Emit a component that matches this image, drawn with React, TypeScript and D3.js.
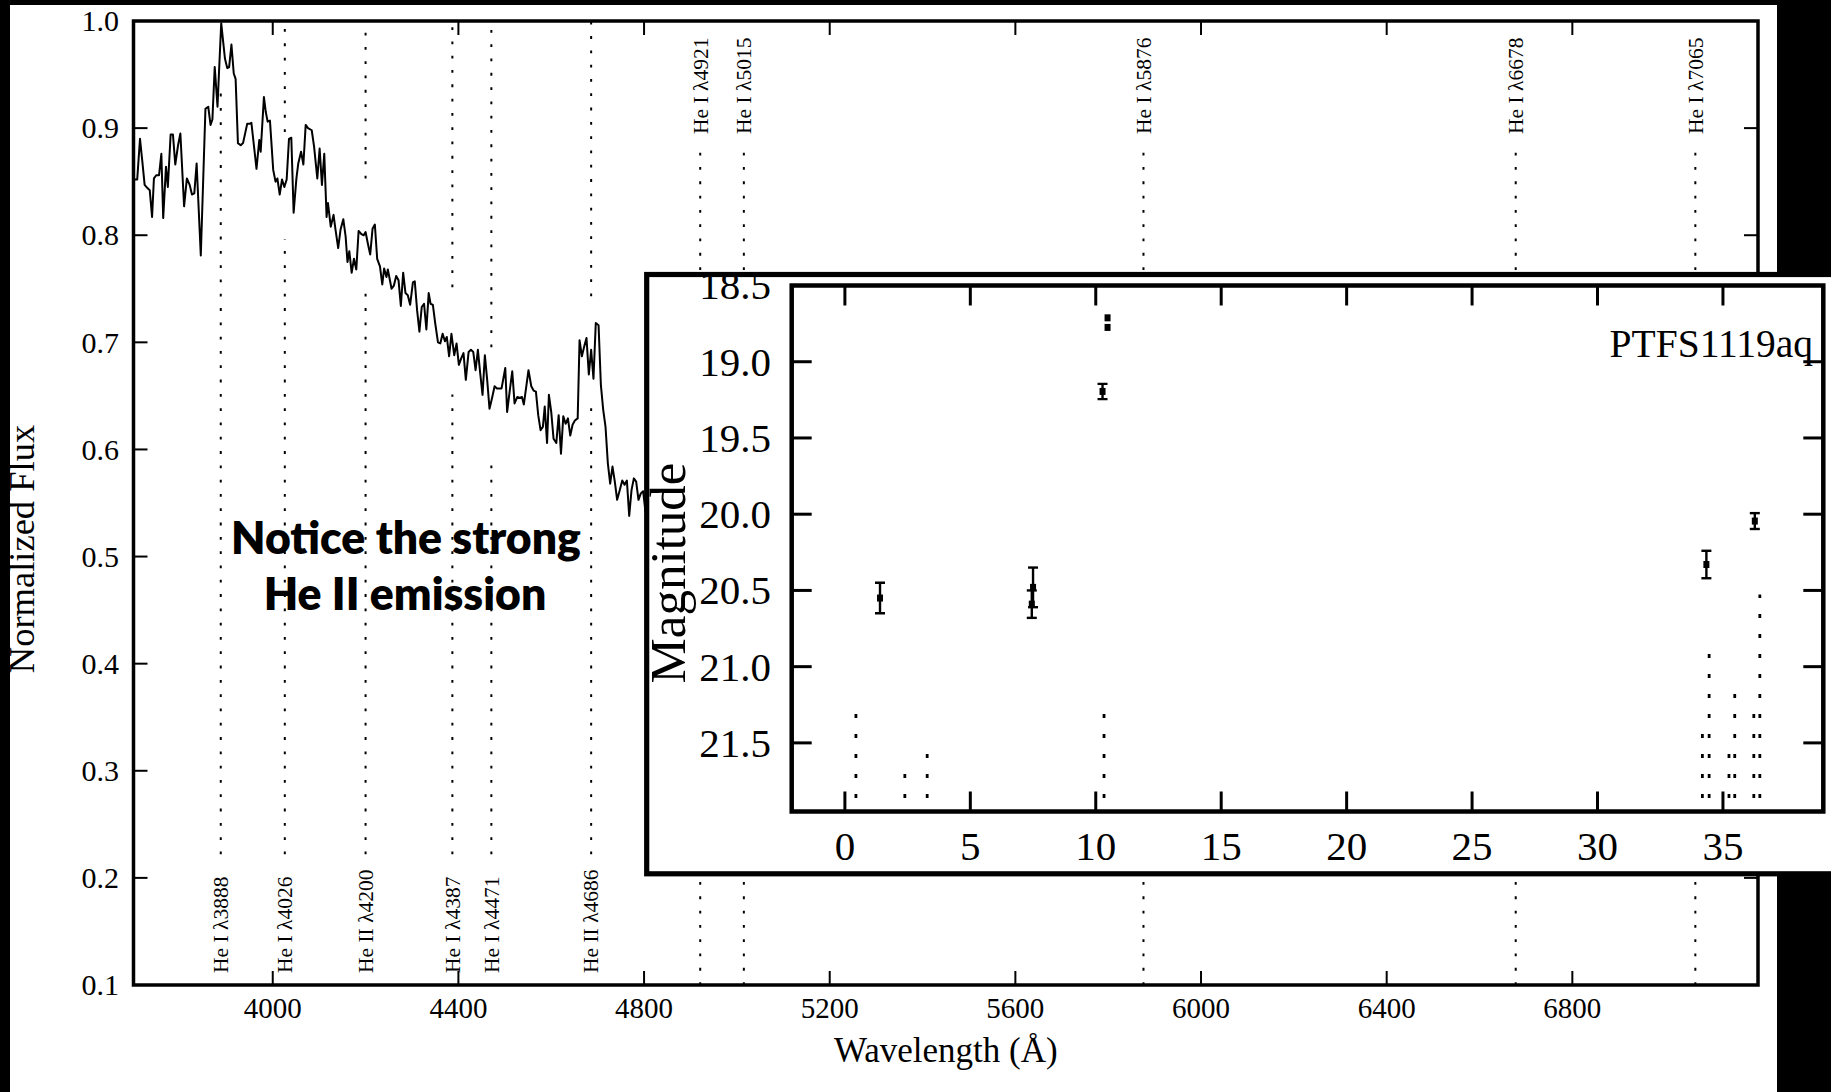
import React from 'react';
import * as d3 from 'd3';

// ---- Spectrum (normalized flux vs wavelength, Å) ----
const wavelength = [
  3700, 3708, 3714, 3719, 3724, 3730, 3735, 3740, 3744, 3749, 3755, 3760, 3764, 3770, 3774, 3780,
  3785, 3790, 3796, 3801, 3809, 3815, 3821, 3826, 3831, 3836, 3845, 3855, 3861, 3866, 3870, 3875,
  3881, 3884, 3889, 3897, 3902, 3906, 3911, 3916, 3920, 3925, 3931, 3936, 3945, 3950, 3954, 3965,
  3971, 3974, 3981, 3985, 3989, 3994, 4001, 4006, 4010, 4015, 4020, 4025, 4030, 4035, 4040, 4045,
  4051, 4055, 4061, 4066, 4071, 4076, 4084, 4089, 4096, 4101, 4106, 4111, 4116, 4119, 4125, 4131,
  4135, 4141, 4146, 4152, 4157, 4161, 4165, 4170, 4175, 4180, 4185, 4191, 4196, 4200, 4205, 4210,
  4215, 4220, 4225, 4231, 4236, 4240, 4245, 4248, 4256, 4261, 4266, 4271, 4276, 4281, 4286, 4291,
  4296, 4302, 4306, 4311, 4316, 4321, 4326, 4331, 4336, 4340, 4345, 4350, 4356, 4361, 4366, 4371,
  4375, 4380, 4385, 4391, 4396, 4401, 4406, 4411, 4416, 4422, 4427, 4432, 4437, 4442, 4447, 4452,
  4457, 4462, 4467, 4473, 4478, 4483, 4488, 4493, 4501, 4505, 4511, 4516, 4521, 4527, 4532, 4537,
  4541, 4546, 4551, 4557, 4562, 4567, 4572, 4577, 4582, 4586, 4591, 4595, 4600, 4605, 4611, 4616,
  4621, 4626, 4631, 4636, 4641, 4646, 4651, 4657, 4661, 4666, 4671, 4676, 4681, 4686, 4691, 4696,
  4702, 4707, 4712, 4717, 4722, 4727, 4732, 4737, 4742, 4747, 4753, 4758, 4763, 4768, 4773, 4778,
  4783, 4788, 4793, 4798, 4803, 4810, 4820,
];
const flux = [
  0.852, 0.852, 0.890, 0.869, 0.847, 0.844, 0.842, 0.817, 0.853, 0.856, 0.856, 0.876, 0.816, 0.864, 0.845, 0.894,
  0.894, 0.866, 0.884, 0.895, 0.827, 0.853, 0.847, 0.838, 0.839, 0.867, 0.781, 0.918, 0.920, 0.903, 0.908, 0.957,
  0.920, 0.950, 0.998, 0.965, 0.956, 0.957, 0.978, 0.951, 0.946, 0.886, 0.884, 0.886, 0.904, 0.904, 0.905, 0.862,
  0.889, 0.878, 0.929, 0.915, 0.906, 0.907, 0.861, 0.850, 0.853, 0.838, 0.852, 0.845, 0.852, 0.890, 0.891, 0.821,
  0.853, 0.867, 0.878, 0.866, 0.903, 0.900, 0.898, 0.883, 0.853, 0.881, 0.847, 0.876, 0.817, 0.830, 0.808, 0.819,
  0.806, 0.788, 0.805, 0.815, 0.799, 0.775, 0.785, 0.765, 0.778, 0.768, 0.804, 0.801, 0.800, 0.803, 0.792, 0.782,
  0.806, 0.810, 0.778, 0.771, 0.754, 0.769, 0.761, 0.768, 0.750, 0.753, 0.762, 0.758, 0.734, 0.765, 0.746, 0.744,
  0.735, 0.756, 0.757, 0.730, 0.710, 0.733, 0.736, 0.712, 0.746, 0.736, 0.735, 0.718, 0.700, 0.699, 0.708, 0.701,
  0.705, 0.687, 0.708, 0.688, 0.699, 0.679, 0.685, 0.690, 0.665, 0.691, 0.693, 0.691, 0.674, 0.693, 0.671, 0.651,
  0.688, 0.665, 0.638, 0.649, 0.659, 0.657, 0.657, 0.657, 0.676, 0.635, 0.656, 0.673, 0.643, 0.649, 0.648, 0.649,
  0.642, 0.658, 0.674, 0.659, 0.655, 0.654, 0.632, 0.618, 0.621, 0.640, 0.606, 0.651, 0.635, 0.610, 0.606, 0.632,
  0.596, 0.631, 0.624, 0.629, 0.613, 0.623, 0.627, 0.629, 0.702, 0.687, 0.696, 0.704, 0.670, 0.693, 0.666, 0.718,
  0.716, 0.660, 0.637, 0.621, 0.587, 0.568, 0.584, 0.570, 0.553, 0.561, 0.571, 0.567, 0.571, 0.538, 0.562, 0.573,
  0.570, 0.553, 0.559, 0.561, 0.542, 0.555, 0.550,
];

// ---- Helium line identifications ----
const lineWave = [3888, 4026, 4200, 4387, 4471, 4686, 4921, 5015, 5876, 6678, 7065];
const lineIon = ['He I', 'He I', 'He II', 'He I', 'He I', 'He II', 'He I', 'He I', 'He I', 'He I', 'He I'];
const lineLabelOnTop = [false, false, false, false, false, false, true, true, true, true, true];

const xTicks = [4000, 4400, 4800, 5200, 5600, 6000, 6400, 6800];
const yTicks = [0.1, 0.2, 0.3, 0.4, 0.5, 0.6, 0.7, 0.8, 0.9, 1.0];

// ---- Light curve (days vs magnitude) ----
const detDay = [1.4, 7.5, 7.45, 10.27, 10.47, 10.47, 34.34, 36.27];
const detMag = [20.55, 20.48, 20.59, 19.195, 18.712, 18.775, 20.33, 20.045];
const detErr = [0.1, 0.13, 0.09, 0.05, 0, 0, 0.09, 0.052];
const limDay = [0.44, 2.39, 3.28, 10.33, 34.18, 34.45, 35.24, 35.47, 36.23, 36.47];
const limMag = [21.3, 21.7, 21.57, 21.3, 21.44, 20.93, 21.57, 21.18, 21.31, 20.54];
const insetXTicks = [0, 5, 10, 15, 20, 25, 30, 35];
const insetYTicks = [18.5, 19.0, 19.5, 20.0, 20.5, 21.0, 21.5];

const W = 1831;
const H = 1092;
const SERIF = "'Liberation Serif', 'Times New Roman', serif";
const SANS = "Lato, 'Open Sans', sans-serif";

const M = { left: 133.5, right: 1758, top: 21, bottom: 985 };
const I = { left: 791.7, right: 1823.3, top: 285.5, bottom: 811.5 };

function fluxAt(w: number): number | null {
  const i = d3.bisectLeft(wavelength, w);
  if (i <= 0 || i >= wavelength.length) return null;
  const t = (w - wavelength[i - 1]) / (wavelength[i] - wavelength[i - 1]);
  return flux[i - 1] + t * (flux[i] - flux[i - 1]);
}

export default function App() {
  const x = d3.scaleLinear().domain([3700, 7200]).range([M.left, M.right]);
  const y = d3.scaleLinear().domain([0.1, 1.0]).range([M.bottom, M.top]);
  const ix = d3.scaleLinear().domain([-2.12, 39]).range([I.left, I.right]);
  const iy = d3.scaleLinear().domain([18.5, 21.95]).range([I.top, I.bottom]);

  const pts = wavelength.map((w, i) => [w, flux[i]] as [number, number]);
  const spectrumPath = d3
    .line<[number, number]>()
    .x((d) => x(d[0]))
    .y((d) => y(d[1]))(pts) as string;

  // dotted marker segments for each line, broken around the spectrum
  const segs: { wx: number; y1: number; y2: number }[] = [];
  lineWave.forEach((w, i) => {
    if (lineLabelOnTop[i]) {
      segs.push({ wx: w, y1: 0.877, y2: 0.1 });
    } else {
      const f = fluxAt(w);
      if (f === null) {
        segs.push({ wx: w, y1: 0.222, y2: 1.0 });
      } else {
        if (f - 0.05 > 0.222) segs.push({ wx: w, y1: 0.222, y2: f - 0.05 });
        if (f + 0.05 < 1.0) segs.push({ wx: w, y1: f + 0.05, y2: 1.0 });
      }
    }
  });

  const tickW = 2;
  return (
    <svg
      width={W}
      height={H}
      viewBox={`0 0 ${W} ${H}`}
      style={{ position: 'absolute', left: 0, top: 0, display: 'block' }}
    >
      <defs>
        <clipPath id="mainClip">
          <rect x={M.left} y={M.top} width={M.right - M.left} height={M.bottom - M.top} />
        </clipPath>
        <clipPath id="insetClip">
          <rect x={I.left} y={I.top} width={I.right - I.left} height={I.bottom - I.top} />
        </clipPath>
      </defs>
      <rect x={0} y={0} width={W} height={H} fill="#000" />
      <rect x={10} y={5} width={1767} height={H - 5} fill="#fff" />

      {/* ---------- main spectrum panel ---------- */}
      <g clipPath="url(#mainClip)">
        {segs.map((s, i) => (
          <line
            key={'seg' + i}
            x1={x(s.wx)}
            x2={x(s.wx)}
            y1={y(s.y1)}
            y2={y(s.y2)}
            stroke="#000"
            strokeWidth={2}
            strokeDasharray="2.8 11.5"
          />
        ))}
        <path d={spectrumPath} fill="none" stroke="#000" strokeWidth={2} strokeLinejoin="round" />
      </g>

      {lineWave.map((w, i) => {
        const top = lineLabelOnTop[i];
        const ly = top ? 134 : 973;
        return (
          <text
            key={'lab' + i}
            transform={`translate(${x(w)},${ly}) rotate(-90)`}
            dy="0.34em"
            fontFamily={SERIF}
            fontSize={21.5}
            textAnchor="start"
            fill="#000"
          >
            {`${lineIon[i]} λ${w}`}
          </text>
        );
      })}

      <rect
        x={M.left}
        y={M.top}
        width={M.right - M.left}
        height={M.bottom - M.top}
        fill="none"
        stroke="#000"
        strokeWidth={3.5}
      />
      {xTicks.map((t) => (
        <g key={'xt' + t}>
          <line x1={x(t)} x2={x(t)} y1={M.bottom} y2={M.bottom - 14} stroke="#000" strokeWidth={tickW} />
          <line x1={x(t)} x2={x(t)} y1={M.top} y2={M.top + 14} stroke="#000" strokeWidth={tickW} />
          <text x={x(t)} y={1018} textAnchor="middle" fontFamily={SERIF} fontSize={29} fill="#000">
            {t}
          </text>
        </g>
      ))}
      {yTicks.map((t) => (
        <g key={'yt' + t}>
          <line x1={M.left} x2={M.left + 14} y1={y(t)} y2={y(t)} stroke="#000" strokeWidth={tickW} />
          <line x1={M.right} x2={M.right - 14} y1={y(t)} y2={y(t)} stroke="#000" strokeWidth={tickW} />
          <text x={119} y={y(t)} dy="0.34em" textAnchor="end" fontFamily={SERIF} fontSize={30} fill="#000">
            {t.toFixed(1)}
          </text>
        </g>
      ))}
      <text x={(M.left + M.right) / 2} y={1062} textAnchor="middle" fontFamily={SERIF} fontSize={35} fill="#000">
        Wavelength (Å)
      </text>
      <text
        transform={`translate(34,549) rotate(-90)`}
        textAnchor="middle"
        fontFamily={SERIF}
        fontSize={36.5}
        fill="#000"
      >
        Normalized Flux
      </text>

      <text x={406} y={554} textAnchor="middle" fontFamily={SANS} fontWeight={800} fontSize={44.5} fill="#000">
        Notice the strong
      </text>
      <text x={405} y={610} textAnchor="middle" fontFamily={SANS} fontWeight={800} fontSize={44.5} fill="#000">
        He II emission
      </text>

      {/* ---------- light-curve inset ---------- */}
      <rect x={646.7} y={274.5} width={1400} height={599.3} fill="#fff" />
      <g clipPath="url(#insetClip)">
        {limDay.map((d, i) => (
          <line
            key={'lim' + i}
            x1={ix(d)}
            x2={ix(d)}
            y1={I.bottom}
            y2={iy(limMag[i]) - 2}
            stroke="#000"
            strokeWidth={2.8}
            strokeDasharray="4 16"
            strokeDashoffset={6.5}
          />
        ))}
        {detDay.map((d, i) => {
          const cx = ix(d);
          const y1 = iy(detMag[i] - detErr[i]);
          const y2 = iy(detMag[i] + detErr[i]);
          return (
            <g key={'det' + i}>
              {detErr[i] > 0 && (
                <>
                  <line x1={cx} x2={cx} y1={y1} y2={y2} stroke="#000" strokeWidth={2.4} />
                  <line x1={cx - 5} x2={cx + 5} y1={y1} y2={y1} stroke="#000" strokeWidth={2.4} />
                  <line x1={cx - 5} x2={cx + 5} y1={y2} y2={y2} stroke="#000" strokeWidth={2.4} />
                </>
              )}
              <rect x={cx - 3} y={iy(detMag[i]) - 3.5} width={6} height={7} fill="#000" />
            </g>
          );
        })}
      </g>
      {insetXTicks.map((t) => (
        <g key={'ixt' + t}>
          <line x1={ix(t)} x2={ix(t)} y1={I.bottom} y2={I.bottom - 20} stroke="#000" strokeWidth={3} />
          <line x1={ix(t)} x2={ix(t)} y1={I.top} y2={I.top + 20} stroke="#000" strokeWidth={3} />
          <text x={ix(t)} y={860} textAnchor="middle" fontFamily={SERIF} fontSize={41} fill="#000">
            {t}
          </text>
        </g>
      ))}
      {insetYTicks.map((t) => (
        <g key={'iyt' + t}>
          <line x1={I.left} x2={I.left + 20} y1={iy(t)} y2={iy(t)} stroke="#000" strokeWidth={3} />
          <line x1={I.right} x2={I.right - 20} y1={iy(t)} y2={iy(t)} stroke="#000" strokeWidth={3} />
          <text x={771} y={iy(t)} dy="0.34em" textAnchor="end" fontFamily={SERIF} fontSize={41} fill="#000">
            {t.toFixed(1)}
          </text>
        </g>
      ))}
      <rect
        x={I.left}
        y={I.top}
        width={I.right - I.left}
        height={I.bottom - I.top}
        fill="none"
        stroke="#000"
        strokeWidth={4.5}
      />
      <text x={1813} y={357} textAnchor="end" fontFamily={SERIF} fontSize={39.5} fill="#000">
        PTFS1119aq
      </text>
      <text
        transform={`translate(685,573) rotate(-90)`}
        textAnchor="middle"
        fontFamily={SERIF}
        fontSize={51}
        fill="#000"
      >
        Magnitude
      </text>
      <rect x={646.7} y={274.5} width={1400} height={599.3} fill="none" stroke="#000" strokeWidth={5.2} />
    </svg>
  );
}
